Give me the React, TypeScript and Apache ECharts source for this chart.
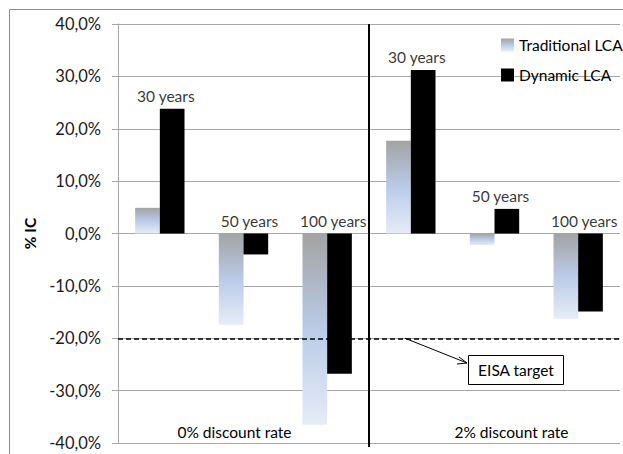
import React, { useEffect, useRef } from "react";
import * as echarts from "echarts";

const rates = ["0% discount rate", "2% discount rate"];
const horizons = ["30 years", "50 years", "100 years", "30 years", "50 years", "100 years"];
const categories = ["0%-30", "0%-50", "0%-100", "2%-30", "2%-50", "2%-100"];
const traditionalLCA = [4.9, -17.4, -36.5, 17.7, -2.2, -16.3];
const dynamicLCA = [23.8, -4.0, -26.8, 31.2, 4.7, -14.9];
const yTicks = { min: -40, max: 40, interval: 10 };
const eisaTarget = -20;
const seriesNames = ["Traditional LCA", "Dynamic LCA"];

const FONT = "Lato, 'Liberation Sans', sans-serif";
const FS = 15.5;

export default function App() {
  const ref = useRef<HTMLDivElement>(null);
  useEffect(() => {
    if (!ref.current) return;
    const chart = echarts.init(ref.current, null, { renderer: "svg" });
    const gradient = new echarts.graphic.LinearGradient(0, 0, 0, 1, [
      { offset: 0, color: "#a3a3a3" },
      { offset: 0.5, color: "#b9cbe8" },
      { offset: 1, color: "#e6ecf7" },
    ]);
    const labelAnchor = categories.map((_, i) => Math.max(0, traditionalLCA[i], dynamicLCA[i]));
    chart.setOption({
      animation: false,
      textStyle: { fontFamily: FONT },
      grid: { left: 118, right: 3, top: 24, bottom: 11, containLabel: false },
      legend: {
        data: seriesNames,
        orient: "vertical",
        left: 496,
        top: 32,
        itemWidth: 13,
        itemHeight: 13,
        itemGap: 14,
        icon: "rect",
        textStyle: { fontSize: FS, color: "#000", fontFamily: FONT },
      },
      xAxis: {
        type: "category",
        data: categories,
        axisLine: { show: false },
        axisTick: { show: false },
        axisLabel: { show: false },
        splitLine: { show: false },
      },
      yAxis: {
        type: "value",
        min: yTicks.min,
        max: yTicks.max,
        interval: yTicks.interval,
        name: "% IC",
        nameLocation: "middle",
        nameRotate: 90,
        nameGap: 80,
        nameTextStyle: { fontSize: FS, fontWeight: "bold", color: "#000", fontFamily: FONT },
        axisLine: { show: true, lineStyle: { color: "#a6a6a6", width: 1 } },
        axisTick: { show: true, length: 6, lineStyle: { color: "#a6a6a6" } },
        axisLabel: {
          margin: 17,
          fontSize: 16.5,
          color: "#1a1a1a",
          fontFamily: FONT,
          formatter: (v: number) => v.toFixed(1).replace(".", ",") + "%",
        },
        splitLine: { show: true, lineStyle: { color: "#a6a6a6", width: 1 } },
      },
      series: [
        {
          name: seriesNames[0],
          type: "bar",
          data: traditionalLCA,
          itemStyle: { color: gradient },
          barGap: "0%",
          barCategoryGap: "41%",
        },
        {
          name: seriesNames[1],
          type: "bar",
          data: dynamicLCA,
          itemStyle: { color: "#000" },
          barGap: "0%",
          barCategoryGap: "41%",
          markLine: {
            silent: true,
            symbol: ["none", "none"],
            label: { show: false },
            lineStyle: { color: "#000", type: [5, 3], width: 1.6 },
            data: [{ yAxis: eisaTarget }],
            z: 10,
          },
        },
        {
          name: "labels",
          type: "scatter",
          data: labelAnchor,
          symbolSize: 0,
          silent: true,
          label: {
            show: true,
            position: "top",
            distance: 5,
            offset: [6, 0],
            fontSize: FS,
            color: "#000",
            fontFamily: FONT,
            formatter: (p: any) => horizons[p.dataIndex],
          },
        },
      ],
    });
    const cx = (i: number) => chart.convertToPixel({ xAxisIndex: 0 }, i) as number;
    const cy = (v: number) => chart.convertToPixel({ yAxisIndex: 0 }, v) as number;
    const mid = (cx(2) + cx(3)) / 2;
    const yTop = cy(yTicks.max);
    const yBot = cy(yTicks.min);
    const yT = cy(eisaTarget);
    const ax = mid + 36;
    const bx = 468;
    const by = 363;
    chart.setOption({
      graphic: [
        {
          type: "rect",
          shape: { x: 9.5, y: 9.5, width: 700, height: 700 },
          style: { fill: "none", stroke: "#8c8c8c", lineWidth: 1 },
          silent: true,
          z: 0,
        },
        {
          type: "line",
          shape: { x1: mid, y1: yTop, x2: mid, y2: yBot + 4 },
          style: { stroke: "#000", lineWidth: 2 },
          z: 20,
        },
        {
          type: "text",
          x: cx(1) - 9,
          y: yBot - 11,
          style: { text: rates[0], fontSize: FS, fontFamily: FONT, fill: "#000", align: "center", verticalAlign: "middle" },
          z: 20,
        },
        {
          type: "text",
          x: cx(4) + 17,
          y: yBot - 11,
          style: { text: rates[1], fontSize: FS, fontFamily: FONT, fill: "#000", align: "center", verticalAlign: "middle" },
          z: 20,
        },
        {
          type: "line",
          shape: { x1: ax, y1: yT, x2: bx - 1, y2: by },
          style: { stroke: "#000", lineWidth: 1 },
          z: 20,
        },
        {
          type: "polyline",
          shape: { points: [[bx - 9, by - 6], [bx - 1, by], [bx - 11, by + 1]] },
          style: { stroke: "#000", lineWidth: 1, fill: "none" },
          z: 20,
        },
        {
          type: "rect",
          shape: { x: 468.5, y: 355.5, width: 95, height: 29 },
          style: { fill: "#fff", stroke: "#000", lineWidth: 1 },
          z: 20,
        },
        {
          type: "text",
          x: 516,
          y: 370,
          style: { text: "EISA target", fontSize: FS, fontFamily: FONT, fill: "#000", align: "center", verticalAlign: "middle" },
          z: 21,
        },
      ],
    });
    return () => chart.dispose();
  }, []);
  return <div ref={ref} style={{ position: "absolute", left: 0, top: 0, width: 623, height: 454, background: "#fff" }} />;
}
